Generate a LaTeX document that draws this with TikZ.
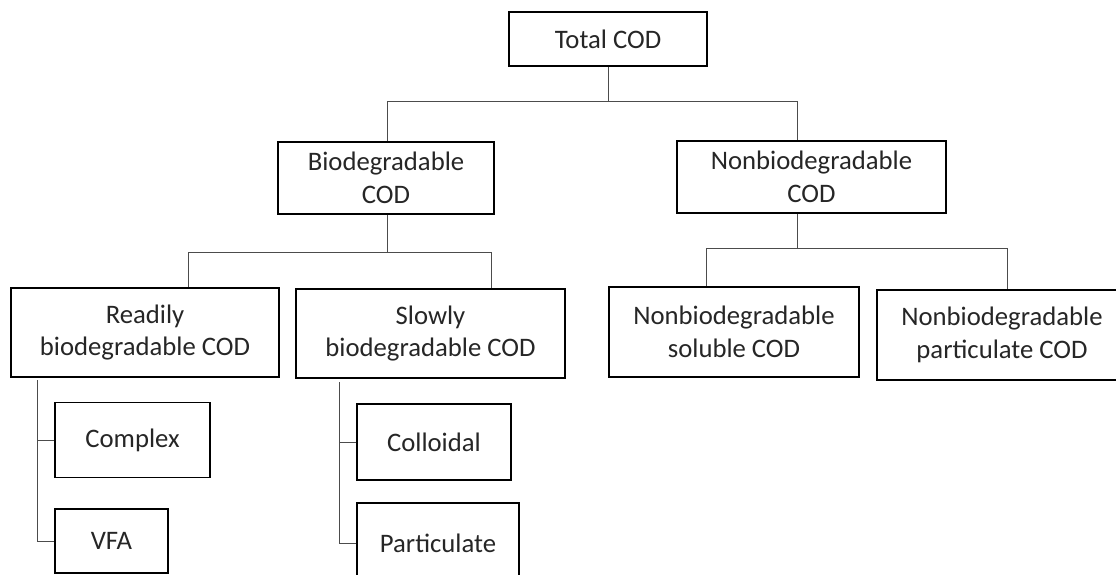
\documentclass[tikz,border=0pt]{standalone}
\usepackage{fontspec}
\setmainfont{Carlito}
\begin{document}
\begin{tikzpicture}[x=1pt,y=-1pt,
  box/.style={draw=black,line width=1.7pt,align=center,inner sep=0pt,
    font=\fontsize{26.7}{32.5}\selectfont,text=black!85},
  conn/.style={draw=black!70,line width=1pt}]
\path[use as bounding box,fill=white] (0,0) rectangle (1116,575);
\clip (0,0) rectangle (1116,575);
% nodes
\node[box,minimum width=198pt,minimum height=54pt] (total) at (608,39) {Total COD};
\node[box,minimum width=216pt,minimum height=72pt] (bio) at (386,178) {Biodegradable\\COD};
\node[box,minimum width=269pt,minimum height=72pt] (nonbio) at (811.5,177) {Nonbiodegradable\\COD};
\node[box,minimum width=268pt,minimum height=89pt] (readily) at (145,332.5) {Readily\\biodegradable COD};
\node[box,minimum width=269pt,minimum height=89pt] (slowly) at (430.5,333.5) {Slowly\\biodegradable COD};
\node[box,minimum width=250pt,minimum height=90pt] (nsol) at (734,332) {Nonbiodegradable\\soluble COD};
\node[box,minimum width=250pt,minimum height=90pt] (npart) at (1002,335) {Nonbiodegradable\\particulate COD};
\node[box,minimum width=155pt,minimum height=75pt] (complex) at (132.5,440) {Complex};
\node[box,minimum width=113pt,minimum height=64pt] (vfa) at (111.5,541) {VFA};
\node[box,minimum width=154pt,minimum height=76pt] (colloidal) at (434,442) {Colloidal};
\node[box,minimum width=162pt,minimum height=80pt] (particulate) at (438,543) {Particulate};
% junction coordinates
\coordinate (j0) at (608,102);
\coordinate (jb) at (387,102);
\coordinate (jn) at (797,102);
\coordinate (kb) at (387,252);
\coordinate (kbl) at (188,252);
\coordinate (kbr) at (491,252);
\coordinate (kn) at (797,248);
\coordinate (knl) at (706,248);
\coordinate (knr) at (1007,248);
\coordinate (r0) at (37,380);
\coordinate (s0) at (339,382);
% connectors
\draw[conn] (total.south) -- (j0);
\draw[conn] (jb |- bio.north) -- (jb) -- (jn) -- (jn |- nonbio.north);
\draw[conn] (kb |- bio.south) -- (kb);
\draw[conn] (kbl |- readily.north) -- (kbl) -- (kbr) -- (kbr |- slowly.north);
\draw[conn] (kn |- nonbio.south) -- (kn);
\draw[conn] (knl |- nsol.north) -- (knl) -- (knr) -- (knr |- npart.north);
\draw[conn] (r0) |- (vfa.west);
\draw[conn] (r0 |- complex.west) -- (complex.west);
\draw[conn] (s0) |- (particulate.west);
\draw[conn] (s0 |- colloidal.west) -- (colloidal.west);
\end{tikzpicture}
\end{document}
